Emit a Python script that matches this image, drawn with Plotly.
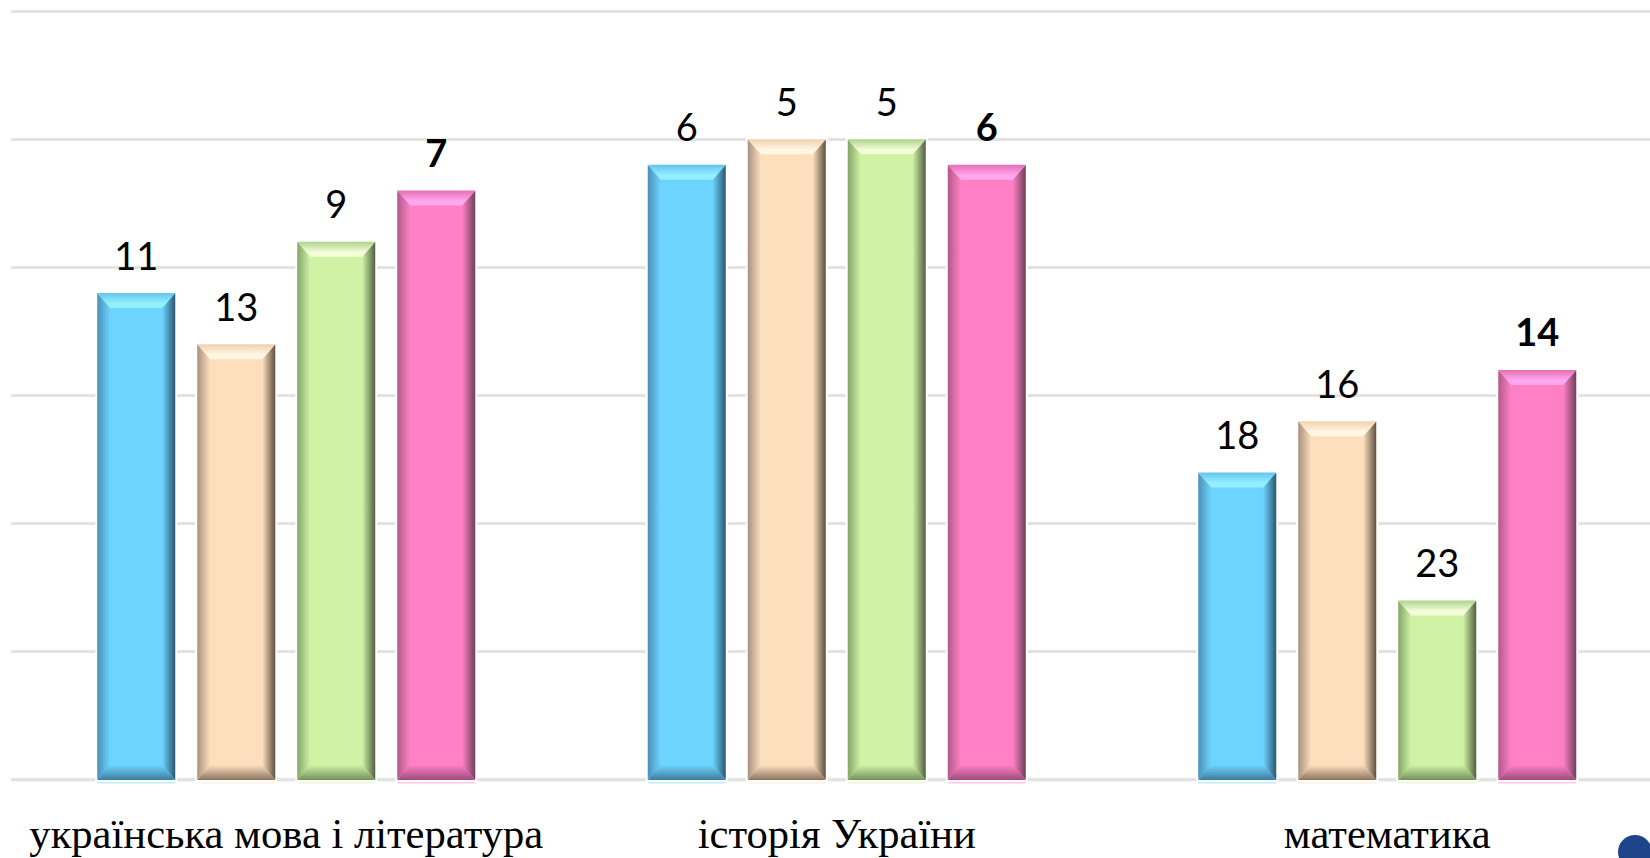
import plotly.graph_objects as go

categories = ["українська мова і література", "історія України", "математика"]
blue_vals = [11, 6, 18]
orange_vals = [13, 5, 16]
green_vals = [9, 5, 23]
pink_vals = [7, 6, 14]

series = [blue_vals, orange_vals, green_vals, pink_vals]
offsets = [-0.2725, -0.0908, 0.0908, 0.2725]
fills = ["#6cd4ff", "#fddfbd", "#cff2a5", "#ff80c5"]
tops = [["#64c4ea", "#92f0ff"], ["#f2d0ac", "#fff6e4"],
        ["#aed48c", "#f4fdd8"], ["#e56fb2", "#ffa8f0"]]
lefts = ["#4a90b6", "#a8917e", "#86a568", "#b05a8a"]
rights = ["#2c566f", "#5f5040", "#535f42", "#6e3f5a"]
bottoms = ["#3f7c9e", "#8a7360", "#75905c", "#9c4d7c"]
bold = [False, False, False, True]

BASE = 30
PX_X = 1 / 550.5
PX_Y = 1 / 25.63
BAR_W = 78 * PX_X
BEVEL_X = 13 * PX_X
BEVEL_Y = 15 * PX_Y
LABEL_GAP = 33 * PX_Y

fig = go.Figure()


def side(px, py, kind, start, stop, scale):
    fig.add_trace(go.Scatter(x=px, y=py, mode="lines", fill="toself",
                             line=dict(width=0), showlegend=False, hoverinfo="skip",
                             fillgradient=dict(type=kind, start=start, stop=stop, colorscale=scale)))


for s, vals in enumerate(series):
    xs = [i + offsets[s] for i in range(len(vals))]
    fig.add_trace(go.Bar(x=xs, y=[v - BASE for v in vals], base=BASE, width=BAR_W,
                         marker=dict(color=fills[s], line=dict(color="#ffffff", width=4)),
                         hoverinfo="skip", showlegend=False))

    for x, v in zip(xs, vals):
        l, r = x - BAR_W / 2, x + BAR_W / 2
        il, ir = l + BEVEL_X, r - BEVEL_X
        it, ib = v + BEVEL_Y, BASE - BEVEL_Y

        side([l, il, il, l], [v, it, ib, BASE], "horizontal", l, il,
             [[0, lefts[s]], [1, fills[s]]])
        side([r, ir, ir, r], [v, it, ib, BASE], "horizontal", r, ir,
             [[0, rights[s]], [1, fills[s]]])
        side([l, r, ir, il], [v, v, it, it], "vertical", v, it,
             [[0, tops[s][0]], [0.7, tops[s][1]], [1, tops[s][1]]])
        side([l, r, ir, il], [BASE, BASE, ib, ib], "vertical", BASE, ib,
             [[0, bottoms[s]], [1, fills[s]]])

    fig.add_trace(go.Scatter(x=xs, y=[v - LABEL_GAP for v in vals], mode="text",
                             text=[str(v) for v in vals], textposition="middle center",
                             textfont=dict(family="Lato", size=38, color="#000000",
                                           weight="bold" if bold[s] else "normal"),
                             showlegend=False, hoverinfo="skip"))

# baseline, pale strip under the bars and the bit of logo in the corner
shapes = [dict(type="line", xref="paper", yref="y", layer="below", x0=0, x1=1, y0=BASE, y1=BASE,
               line=dict(color="#d3d3d3", width=2.5))]
for s, vals in enumerate(series):
    for i in range(len(vals)):
        shapes.append(dict(type="rect", xref="x", yref="y", layer="below", line_width=0,
                           x0=i + offsets[s] - BAR_W / 2, x1=i + offsets[s] + BAR_W / 2,
                           y0=BASE + 0.04, y1=BASE + 0.14, fillcolor=fills[s], opacity=0.45))
shapes.append(dict(type="circle", xref="paper", yref="paper", line_width=0, fillcolor="#1d4587",
                   x0=(1618 - 11) / 1639, x1=(1652 - 11) / 1639,
                   y0=(786 - 869) / 778, y1=(786 - 835) / 778))

fig.update_layout(
    width=1650, height=858, autosize=False,
    margin=dict(l=11, r=0, t=8, b=72),
    paper_bgcolor="#ffffff", plot_bgcolor="#ffffff",
    shapes=shapes, barmode="overlay",
    xaxis=dict(range=[-0.5, 2.4773], tickvals=[0, 1, 2], ticktext=categories,
               tickfont=dict(family="Liberation Serif", size=42.6, color="#000000"),
               ticks="outside", ticklen=10, tickcolor="rgba(0,0,0,0)",
               showgrid=False, zeroline=False, automargin=False),
    yaxis=dict(range=[30.235, -0.12], dtick=5, tick0=0, showticklabels=False, ticks="",
               showgrid=True, gridcolor="#e3e3e3", gridwidth=2.5, zeroline=False,
               automargin=False),
)

fig.write_html("out.html", post_script="document.body.style.margin='0';",
               config=dict(displayModeBar=False))
